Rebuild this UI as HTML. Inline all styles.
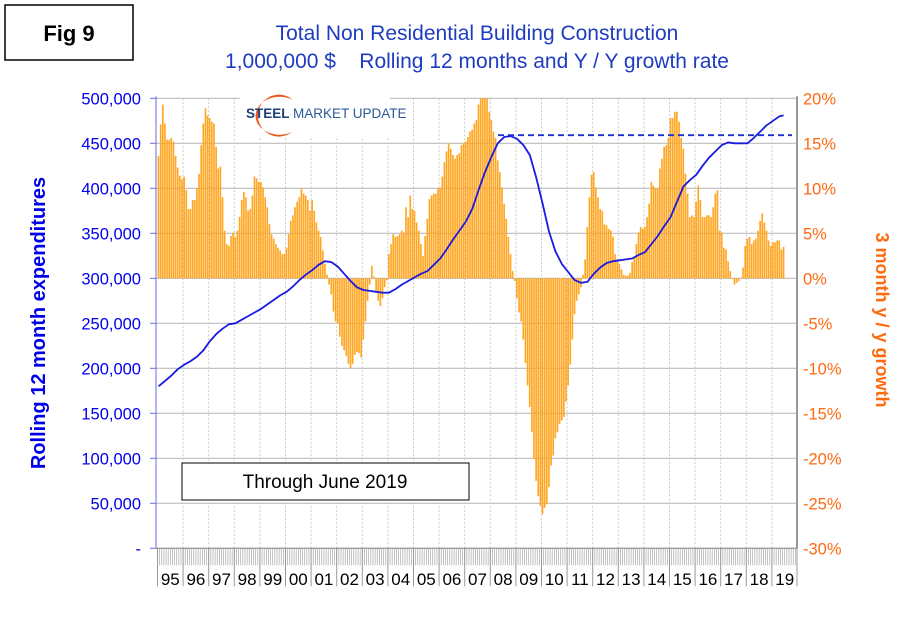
<!DOCTYPE html>
<html><head><meta charset="utf-8"><style>
body{margin:0;background:#fff;}
svg text{font-family:"Liberation Sans",Arial,sans-serif;}
</style></head><body>
<svg id="chart" width="898" height="620" xmlns="http://www.w3.org/2000/svg">
<rect x="0" y="0" width="898" height="620" fill="#fff"/>
<g>
<rect x="5" y="5" width="128" height="55" fill="#fff" stroke="#000" stroke-width="1.5"/>
<text x="69" y="41" text-anchor="middle" font-size="22" font-weight="bold" fill="#000">Fig 9</text>
</g>
<text x="477" y="40" text-anchor="middle" font-size="21" fill="#1e3cc0">Total Non Residential Building Construction</text>
<text x="477" y="68" text-anchor="middle" font-size="21" fill="#1e3cc0" xml:space="preserve">1,000,000 $    Rolling 12 months and Y / Y growth rate</text>
<g id="grid"></g>
<g id="bars"></g>
<g id="line"></g>
<g id="axes"></g>
<g>
<rect x="240" y="92" width="150" height="44" fill="#fff"/>
<path d="M293 100 A21 21 0 1 0 292 132 A24 19 0 1 1 293 100 Z" fill="#ea5a1e"/>
<text x="246" y="118" font-size="13.5" font-weight="bold" fill="#1e3f7a">STEEL <tspan font-weight="normal" fill="#2c5a9a">MARKET UPDATE</tspan></text>
</g>
<g>
<rect x="182" y="463" width="287" height="37" fill="#fff" stroke="#000" stroke-width="1"/>
<text x="325" y="488" text-anchor="middle" font-size="19" fill="#000">Through June 2019</text>
</g>
<text transform="translate(45,323) rotate(-90)" text-anchor="middle" font-size="20" font-weight="bold" fill="#0000e8">Rolling 12 month expenditures</text>
<text transform="translate(876,320) rotate(90)" text-anchor="middle" font-size="18" font-weight="bold" fill="#ff6a10">3 month y / y growth</text>
</svg>
<script>
const years=["95","96","97","98","99","00","01","02","03","04","05","06","07","08","09","10","11","12","13","14","15","16","17","18","19"];
const leftTicks=["-","50,000","100,000","150,000","200,000","250,000","300,000","350,000","400,000","450,000","500,000"];
const leftTickValues=[0,50,100,150,200,250,300,350,400,450,500];
const rightTickValues=[-30,-25,-20,-15,-10,-5,0,5,10,15,20];
const growth=[
13.6,17.1,19.3,17.2,15.4,15.4,15.6,15.2,13.6,12.3,11.4,11.0,
11.3,9.8,7.7,7.7,8.7,8.7,10.0,11.6,14.8,17.2,18.9,18.1,
17.8,17.4,17.2,14.6,12.2,12.4,9.0,5.3,3.8,3.6,4.7,5.1,
4.6,5.3,6.8,8.7,9.6,9.0,7.5,7.7,9.2,11.3,11.1,10.7,
10.7,10.1,9.0,7.9,6.0,4.9,4.4,3.8,3.4,3.1,2.7,2.7,
3.4,4.9,6.4,7.0,7.9,8.5,9.0,10.0,9.4,9.2,8.7,7.5,
8.7,7.5,6.2,5.3,4.6,3.1,1.6,0.4,-0.7,-1.8,-3.7,-4.8,
-5.0,-6.5,-7.5,-8.0,-8.6,-9.5,-10.0,-9.5,-8.5,-8.2,-8.3,-8.8,
-6.8,-4.8,-2.5,-0.7,1.4,0.2,-1.4,-2.5,-3.1,-2.2,-1.0,-0.2,
2.7,3.8,4.9,4.6,4.7,4.9,5.3,5.1,7.9,6.8,9.2,7.7,
7.5,6.2,5.3,3.8,2.5,4.7,6.6,8.8,9.2,9.4,9.4,10.0,
10.1,11.3,12.9,14.1,15.0,14.4,13.7,13.3,13.7,13.9,14.8,15.0,
15.2,15.7,16.3,16.5,17.2,17.6,19.3,20.2,20.2,20.2,20.2,18.5,
17.6,16.3,15.6,13.1,11.8,10.1,8.3,6.6,4.6,2.7,0.8,-0.3,
-2.2,-3.8,-4.8,-6.8,-9.4,-11.9,-14.3,-17.1,-20.1,-22.5,-24.2,-25.3,
-26.2,-25.5,-25.1,-23.2,-20.8,-19.7,-17.8,-17.1,-16.2,-15.8,-15.4,-13.7,
-11.9,-9.6,-6.8,-4.0,-2.5,-1.8,-1.0,0.4,2.1,5.7,9.0,11.5,
11.8,10.1,9.0,7.7,7.5,6.0,5.9,5.5,5.3,4.6,2.7,2.1,
1.6,1.0,0.4,0.3,0.3,0.6,1.8,2.3,3.8,5.1,5.7,5.5,
5.7,6.8,8.3,10.7,10.3,10.0,10.0,12.2,13.3,14.6,14.8,15.6,
17.8,17.8,18.5,18.5,17.4,15.6,14.4,11.6,9.4,6.8,7.0,6.8,
8.5,10.3,8.7,6.8,6.8,7.0,7.0,6.8,7.9,9.4,9.8,5.3,
5.1,3.4,3.2,1.9,0.8,-0.1,-0.7,-0.5,-0.3,0.1,1.2,3.6,
4.4,4.6,3.8,4.2,4.4,5.3,6.4,7.2,6.2,5.3,4.2,3.6,
4.0,4.0,4.2,4.2,3.2,3.5];
const expenditureQuarterly=[
180,186,192,199, 204,208,213,220, 230,238,244,249, 250,254,258,262,
266,271,276,281, 285,291,298,304, 309,315,319,318, 313,305,297,290,
287,286,285,284, 284,288,293,297, 301,305,308,315, 322,332,343,353,
363,377,398,418, 435,450,457,458, 455,448,437,412, 383,352,330,316,
307,298,295,296, 305,312,317,319, 320,321,322,326, 329,338,347,358,
368,385,402,409, 415,425,434,441, 448,451,450,450, 450,456,463,470,
475,480];
const expenditureLast=481;
const peakLevel=459;

const NS="http://www.w3.org/2000/svg";
const X0=157.5, MW=25.6/12, PL=156, PR=797, PT=98.3, PB=548.3;
const xM=m=>X0+m*MW;
const yL=v=>PB-(v/500)*(PB-PT);
const yR=p=>PB-((p+30)/50)*(PB-PT);
function mk(tag,attrs,parent){const e=document.createElementNS(NS,tag);for(const k in attrs)e.setAttribute(k,attrs[k]);parent.appendChild(e);return e;}
const grid=document.getElementById('grid'),bars=document.getElementById('bars'),lineG=document.getElementById('line'),axes=document.getElementById('axes');
leftTickValues.forEach((v,i)=>{
  const l=mk('line',{x1:PL,x2:PR,y1:yL(v),y2:yL(v),stroke:'#bdbdbd','stroke-width':1.2},grid);
  
  
  const tk=mk('line',{x1:PL-6,x2:PL,y1:yL(v),y2:yL(v),stroke:'#6a6ae0','stroke-width':1},axes);
  
  
  const t=mk('text',{x:141,y:yL(v)+6,'text-anchor':'end','font-size':16.5,fill:'#0000f0'},axes);
  t.textContent=leftTicks[i];
  
  
});
rightTickValues.forEach(p=>{
  const t=mk('text',{x:803,y:yR(p)+6,'font-size':16.5,fill:'#ff6a10'},axes);
  t.textContent=p+'%';
  
  
});
years.forEach((y,i)=>{
  if(i===0)return;
  const l=mk('line',{x1:xM(i*12),x2:xM(i*12),y1:PT,y2:PB,stroke:'#c8c8c8','stroke-width':1,'stroke-dasharray':'2,2'},grid);
  
  
});
growth.forEach((g,m)=>{
  const y0=yR(0),y1=yR(Math.min(g,20));
  const r=mk('rect',{x:xM(m)+0.2,y:Math.min(y0,y1),width:MW-0.5,height:Math.abs(y1-y0),fill:'#ffa51f'},bars);
  
  
});
const dl=mk('line',{x1:498,x2:792,y1:yL(peakLevel),y2:yL(peakLevel),stroke:'#1a2fd0','stroke-width':1.8,'stroke-dasharray':'6,4'},lineG);


let pts=expenditureQuarterly.map((v,i)=>[xM(i*3+0.5),yL(v)]);
pts.push([xM(293.5),yL(expenditureLast)]);
const pl=mk('polyline',{points:pts.map(p=>p[0].toFixed(1)+','+p[1].toFixed(1)).join(' '),fill:'none',stroke:'#1a1ae0','stroke-width':1.8,'stroke-linejoin':'round'},lineG);


const la=mk('line',{x1:PL,x2:PL,y1:PT-2,y2:PB,stroke:'#6a6ae0','stroke-width':1},axes);


const ra=mk('line',{x1:PR,x2:PR,y1:PT-2,y2:PB,stroke:'#999','stroke-width':2},axes);


const xa=mk('line',{x1:PL,x2:PR,y1:PB,y2:PB,stroke:'#888','stroke-width':1},axes);


for(let m=0;m<300;m++){
  const t=mk('line',{x1:xM(m),x2:xM(m),y1:PB,y2:PB+17,stroke:'#a8a8a8','stroke-width':0.7},axes);
  
  
}
years.forEach((y,i)=>{
  const s=mk('line',{x1:xM(i*12),x2:xM(i*12),y1:PB,y2:PB+38,stroke:'#999','stroke-width':1},axes);
  
  
  const t=mk('text',{x:xM(i*12+6),y:585,'text-anchor':'middle','font-size':17,fill:'#000'},axes);
  t.textContent=y;
  
  
});
const se=mk('line',{x1:PR,x2:PR,y1:PB,y2:PB+38,stroke:'#999','stroke-width':1},axes);


</script>
</body></html>
